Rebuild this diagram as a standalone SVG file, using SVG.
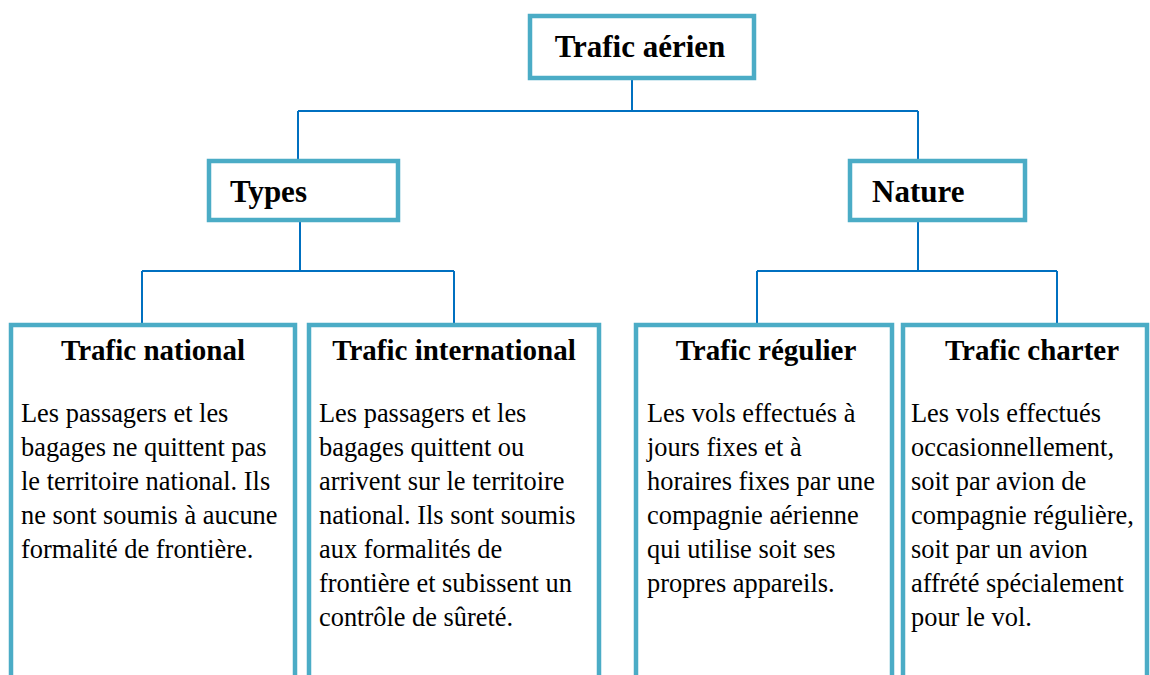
<svg xmlns="http://www.w3.org/2000/svg" width="1150" height="675" viewBox="0 0 1150 675">
<style>
.box{fill:#fff;stroke:#4BACC6;stroke-width:4.5}
.conn{fill:none;stroke:#0070C0;stroke-width:2}
.t1{font-family:"Liberation Serif","Times New Roman",serif;font-weight:bold;font-size:31px;fill:#000}
.t2{font-family:"Liberation Serif","Times New Roman",serif;font-weight:bold;font-size:29px;fill:#000;text-anchor:middle}
.b{font-family:"Liberation Serif","Times New Roman",serif;font-size:26.4px;fill:#000}
</style>
<rect width="1150" height="675" fill="#fff"/>
<g id="connectors">
<path class="conn" d="M632 80V111M298 111H918M298 111V161M918 111V161"/>
<path class="conn" d="M300 222V271M142 271H454M142 271V325M454 271V325"/>
<path class="conn" d="M918 222V271M757 271H1057M757 271V325M1057 271V325"/>
</g>
<g id="trafic-aerien">
<rect class="box" x="530" y="16" width="224" height="62"/>
<text class="t1" x="640" y="57" text-anchor="middle">Trafic aérien</text>
</g>
<g id="types">
<rect class="box" x="209" y="161" width="189" height="59"/>
<text class="t1" x="230" y="202">Types</text>
</g>
<g id="nature">
<rect class="box" x="850" y="161" width="175" height="59"/>
<text class="t1" x="872" y="202">Nature</text>
</g>
<g id="trafic-national">
<rect class="box" x="11" y="325" width="284" height="400"/>
<text class="t2" x="153" y="360">Trafic national</text>
<text class="b" x="21" y="422">Les passagers et les</text>
<text class="b" x="21" y="456">bagages ne quittent pas</text>
<text class="b" x="21" y="490">le territoire national. Ils</text>
<text class="b" x="21" y="524">ne sont soumis à aucune</text>
<text class="b" x="21" y="558">formalité de frontière.</text>
</g>
<g id="trafic-international">
<rect class="box" x="309" y="325" width="290" height="400"/>
<text class="t2" x="454" y="360">Trafic international</text>
<text class="b" x="319" y="422">Les passagers et les</text>
<text class="b" x="319" y="456">bagages quittent ou</text>
<text class="b" x="319" y="490">arrivent sur le territoire</text>
<text class="b" x="319" y="524">national. Ils sont soumis</text>
<text class="b" x="319" y="558">aux formalités de</text>
<text class="b" x="319" y="592">frontière et subissent un</text>
<text class="b" x="319" y="626">contrôle de sûreté.</text>
</g>
<g id="trafic-regulier">
<rect class="box" x="636" y="325" width="256" height="400"/>
<text class="t2" x="766" y="360">Trafic régulier</text>
<text class="b" x="647" y="422">Les vols effectués à</text>
<text class="b" x="647" y="456">jours fixes et à</text>
<text class="b" x="647" y="490">horaires fixes par une</text>
<text class="b" x="647" y="524">compagnie aérienne</text>
<text class="b" x="647" y="558">qui utilise soit ses</text>
<text class="b" x="647" y="592">propres appareils.</text>
</g>
<g id="trafic-charter">
<rect class="box" x="903" y="325" width="244" height="400"/>
<text class="t2" x="1032" y="360">Trafic charter</text>
<text class="b" x="911" y="422">Les vols effectués</text>
<text class="b" x="911" y="456">occasionnellement,</text>
<text class="b" x="911" y="490">soit par avion de</text>
<text class="b" x="911" y="524">compagnie régulière,</text>
<text class="b" x="911" y="558">soit par un avion</text>
<text class="b" x="911" y="592">affrété spécialement</text>
<text class="b" x="911" y="626">pour le vol.</text>
</g>
</svg>
